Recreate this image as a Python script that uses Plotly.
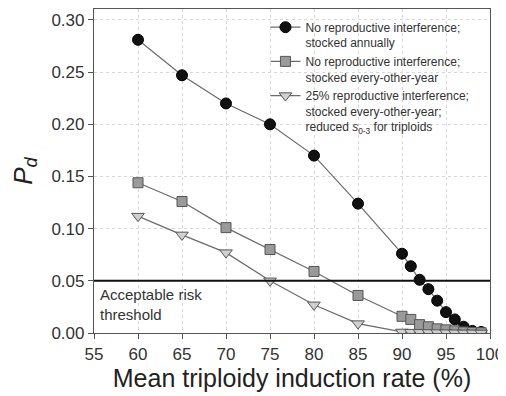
import plotly.graph_objects as go

# Data
rates_a = [60, 65, 70, 75, 80, 85, 90, 91, 92, 93, 94, 95, 96, 97, 98, 99]
pd_annual = [0.281, 0.247, 0.220, 0.200, 0.170, 0.124, 0.076, 0.064, 0.051, 0.042,
             0.031, 0.020, 0.013, 0.006, 0.002, 0.001]
pd_eoy = [0.144, 0.126, 0.101, 0.080, 0.059, 0.036, 0.016, 0.013, 0.008, 0.006,
          0.004, 0.003, 0.002, 0.001, 0.0005, 0.0002]
pd_interf = [0.112, 0.094, 0.077, 0.050, 0.027, 0.009, 0.001, 0.0008, 0.0006, 0.0005,
             0.0004, 0.0003, 0.0002, 0.0001, 0.0001, 0.0]
threshold = 0.05
x_ticks = [55, 60, 65, 70, 75, 80, 85, 90, 95, 100]
y_ticks = [0.00, 0.05, 0.10, 0.15, 0.20, 0.25, 0.30]

FONT = "Arial, Liberation Sans, sans-serif"
LINE = "#6b6b6b"

fig = go.Figure()
fig.add_trace(go.Scatter(
    x=rates_a, y=pd_annual, mode="lines+markers",
    name="No reproductive interference;<br>stocked annually",
    line=dict(color=LINE, width=1.2),
    marker=dict(symbol="circle", size=11, color="#111111", line=dict(color="#000000", width=1)),
))
fig.add_trace(go.Scatter(
    x=rates_a, y=pd_eoy, mode="lines+markers",
    name="No reproductive interference;<br>stocked every-other-year",
    line=dict(color=LINE, width=1.2),
    marker=dict(symbol="square", size=10, color="#9a9a9a", line=dict(color="#555555", width=1)),
))
fig.add_trace(go.Scatter(
    x=rates_a, y=pd_interf, mode="lines+markers",
    name="25% reproductive interference;<br>stocked every-other-year;<br>reduced <i>s</i><sub>0-3</sub> for triploids",
    line=dict(color=LINE, width=1.2),
    marker=dict(symbol="triangle-down", size=11, color="#d0d0d0", line=dict(color="#555555", width=1)),
))

fig.add_shape(type="line", xref="paper", x0=0, x1=1, yref="y", y0=threshold, y1=threshold,
              line=dict(color="#111111", width=2), layer="above")
fig.add_annotation(xref="x", yref="y", x=55.4, y=0.047, xanchor="left", yanchor="top",
                   text="Acceptable risk<br>threshold", showarrow=False, align="left",
                   font=dict(family=FONT, size=15, color="#333333"))

fig.update_layout(
    width=498, height=388,
    margin=dict(l=86, r=16, t=1, b=63),
    paper_bgcolor="white", plot_bgcolor="white",
    font=dict(family=FONT, color="#333333"),
    showlegend=True,
    legend=dict(x=0.433, y=0.988, xanchor="left", yanchor="top",
                bgcolor="rgba(255,255,255,0)", borderwidth=0,
                font=dict(family=FONT, size=12, color="#333333"),
                valign="top", tracegroupgap=0, itemwidth=30),
)
fig.update_xaxes(
    range=[55, 100], tickvals=x_ticks, ticktext=[str(t) for t in x_ticks],
    showline=True, linecolor="#555555", linewidth=1.2, mirror=True,
    ticks="outside", ticklen=5, tickcolor="#555555", automargin=False,
    showgrid=True, gridcolor="#d8d8d8", griddash="dot", gridwidth=1,
    zeroline=False, tickfont=dict(size=17, color="#333333"),
    title=dict(text="Mean triploidy induction rate (%)", font=dict(size=25, color="#222222"), standoff=3),
)
fig.update_yaxes(
    range=[0, 0.3105], tickvals=y_ticks, ticktext=[f"{t:.2f}" for t in y_ticks],
    showline=True, linecolor="#555555", linewidth=1.2, mirror=True,
    ticks="outside", ticklen=5, tickcolor="#555555", automargin=False,
    showgrid=True, gridcolor="#d8d8d8", griddash="dot", gridwidth=1,
    zeroline=False, tickfont=dict(size=17, color="#333333"),
    title=dict(text="<i>P</i><sub><i>d</i></sub>", font=dict(size=26, color="#222222"), standoff=18),
)

fig.write_html("out.html")
